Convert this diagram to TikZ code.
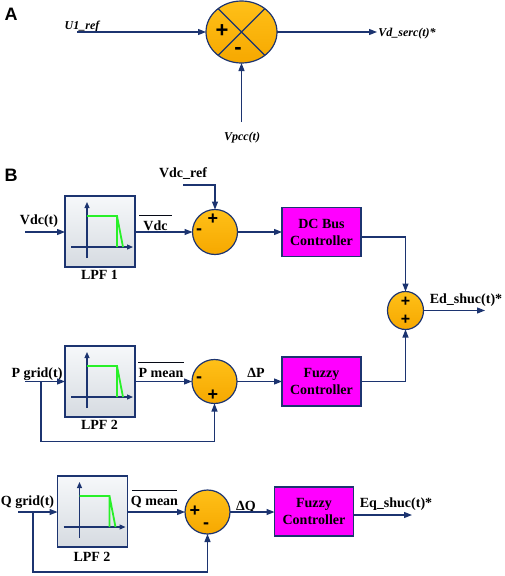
\documentclass[tikz,border=0pt]{standalone}
\usepackage{fontspec}
\setmainfont{Liberation Serif}
\newfontfamily\sansfam{Liberation Sans}
\usetikzlibrary{arrows.meta,shapes.geometric,calc}
\definecolor{navy}{RGB}{28,52,112}
\definecolor{sumtop}{RGB}{255,192,24}
\definecolor{sumbot}{RGB}{246,168,0}
\definecolor{magbox}{RGB}{255,0,255}
\definecolor{lpfgreen}{RGB}{40,240,40}
\definecolor{lpftop}{RGB}{246,248,250}
\definecolor{lpfbot}{RGB}{214,219,225}
\newcommand\lpfgraph[1]{%
  \begin{scope}[shift={(#1.north west)}]
    \draw[axisarr] (22,62) -- (22,6);
    \draw[axisarr] (6,51) -- (68,51);
    \draw[lpfgreen,line width=1.8pt] (22,20) -- (52,20) -- (52,51) (52,20) -- (58,51);
  \end{scope}}
\begin{document}
\begin{tikzpicture}[x=1pt,y=-1pt,
  wire/.style={draw=navy,line width=1.3pt},
  arr/.style={wire,-{Triangle[length=8pt,width=6pt]}},
  axisarr/.style={draw=navy,line width=1.2pt,-{Triangle[length=6pt,width=5pt]}},
  summer/.style={ellipse,draw=navy,line width=1.2pt,top color=sumtop,bottom color=sumbot,inner sep=0pt,outer sep=0pt},
  ctrl/.style={rectangle,draw=navy,line width=1.2pt,fill=magbox,minimum width=79pt,minimum height=49pt,align=center,inner sep=0pt,outer sep=0pt,font=\fontsize{14}{17}\selectfont\bfseries},
  lpf/.style={rectangle,draw=navy,line width=1.1pt,top color=lpftop,bottom color=lpfbot,minimum width=70pt,minimum height=71pt,inner sep=0pt,outer sep=0pt},
  lbl/.style={font=\fontsize{14}{17}\selectfont\bfseries,inner sep=0pt,anchor=base},
  albl/.style={font=\fontsize{12}{14}\selectfont\bfseries\itshape,inner sep=0pt,anchor=base},
  bigsign/.style={font=\sansfam\bfseries\fontsize{22}{22}\selectfont,inner sep=0pt},
  sign/.style={font=\sansfam\bfseries\fontsize{18}{18}\selectfont,inner sep=0pt},
  smallsign/.style={font=\sansfam\bfseries\fontsize{16}{16}\selectfont,inner sep=0pt},
  panel/.style={font=\sansfam\bfseries\fontsize{18}{18}\selectfont,inner sep=0pt,anchor=base},
  ovl/.style={draw=black!80!navy,line width=1pt}
]
\useasboundingbox (0,0) rectangle (505,576);

% ---------------- Part A ----------------
\node[panel] (labA) at (11,20) {A};
\node[summer,minimum width=71pt,minimum height=62pt] (sumA) at (241.5,32) {};
\draw[navy,line width=1.2pt] (sumA.45) -- (sumA.225) (sumA.135) -- (sumA.315);
\node[bigsign] (sAp) at (222,31) {+};
\node[bigsign] (sAm) at (238,51) {-};
\node[albl] (u1) at (82,29) {U1\_ref};
\node[albl] (vdserc) at (407,36) {Vd\_serc(t)*};
\node[albl] (vpcc) at (242,140) {Vpcc(t)};
\coordinate (u1in) at (77,32);
\coordinate (vdout) at (377,32);
\coordinate (vpccin) at (241.5,122);
\draw[arr] (u1in) -- (sumA.west);
\draw[arr] (sumA.east) -- (vdout);
\draw[arr] (vpccin) -- (sumA.south);

% ---------------- Part B ----------------
\node[panel] (labB) at (11,181) {B};

% row 1 : Vdc
\node[lpf] (lpf1) at (100,231.5) {};
\lpfgraph{lpf1}
\node[lbl] (lpf1l) at (99.5,279) {LPF 1};
\node[summer,minimum width=45pt,minimum height=45pt] (sum1) at (215,232) {};
\node[sign] (s1p) at (213,219) {+};
\node[sign] (s1m) at (199,232) {-};
\node[ctrl] (dcb) at (321.5,232) {DC Bus\\Controller};
\node[lbl] (vdcref) at (183,177) {Vdc\_ref};
\node[lbl] (vdct) at (39,224) {Vdc(t)};
\node[lbl] (vdcbar) at (155.5,230) {Vdc};
\draw[ovl] ([xshift=-4pt,yshift=5pt]vdcbar.north west) -- ([xshift=4pt,yshift=5pt]vdcbar.north east);
\coordinate (vdcrefin) at (183,185);
\coordinate (vdcin) at (25,232);
\draw[arr] (vdcrefin) -| (sum1.north);
\draw[arr] (vdcin) -- (lpf1.west |- vdcin);
\draw[arr] (lpf1.east |- vdcin) -- (sum1.west);
\draw[arr] (sum1.east) -- (dcb.west);

% summer Ed
\node[summer,minimum width=36pt,minimum height=38pt] (sum3) at (405.5,310.5) {};
\node[smallsign] (s3a) at (405.5,302) {+};
\node[smallsign] (s3b) at (405.5,320) {+};
\node[lbl] (edl) at (466,303) {Ed\_shuc(t)*};
\coordinate (edout) at (485,310.5);
\draw[arr] ([yshift=-5pt]dcb.east) -| (sum3.north);
\draw[arr] (sum3.east) -- (edout);

% row 2 : P
\node[lpf] (lpf2) at (100,381.5) {};
\lpfgraph{lpf2}
\node[lbl] (lpf2l) at (99.5,429) {LPF 2};
\node[summer,minimum width=45pt,minimum height=44pt] (sum2) at (214.5,381.5) {};
\node[sign] (s2m) at (199,380) {-};
\node[sign] (s2p) at (213,395) {+};
\node[ctrl] (fzp) at (321.5,381.5) {Fuzzy\\Controller};
\node[lbl] (pgrid) at (37,377) {P grid(t)};
\node[lbl] (pmean) at (161,377) {P mean};
\draw[ovl] ([yshift=5pt]pmean.north west) -- ([yshift=5pt]pmean.north east);
\node[lbl] (dp) at (256,377) {ΔP};
\coordinate (pin) at (25,381.5);
\coordinate (pbr) at (41,381.5);
\draw[arr] (pin) -- (lpf2.west);
\draw[arr] (pbr) -- ++(0,60) -| (sum2.south);
\draw[arr] (lpf2.east) -- (sum2.west);
\draw[arr] (sum2.east) -- (fzp.west);
\draw[arr] (fzp.east) -| (sum3.south);

% row 3 : Q
\node[lpf] (lpf3) at (92.5,511.5) {};
\lpfgraph{lpf3}
\node[lbl] (lpf3l) at (92,561) {LPF 2};
\node[summer,minimum width=45pt,minimum height=44pt] (sumq) at (207.5,512) {};
\node[sign] (sqp) at (195,511) {+};
\node[sign] (sqm) at (206,526) {-};
\node[ctrl] (fzq) at (314,511.5) {Fuzzy\\Controller};
\node[lbl] (qgrid) at (27.5,505) {Q grid(t)};
\node[lbl] (qmean) at (154.5,505) {Q mean};
\draw[ovl] ([xshift=1pt,yshift=5pt]qmean.north west) -- ([xshift=-1pt,yshift=5pt]qmean.north east);
\node[lbl] (dq) at (246,510) {ΔQ};
\node[lbl] (eql) at (396,507) {Eq\_shuc(t)*};
\coordinate (qin) at (18,512);
\coordinate (qbr) at (33,512);
\coordinate (eqout) at (412,515);
\draw[arr] (qin) -- (lpf3.west |- qin);
\draw[arr] (qbr) -- ++(0,60) -| (sumq.south);
\draw[arr] (lpf3.east |- qin) -- (sumq.west);
\draw[arr] (sumq.east) -- (fzq.west |- sumq.east);
\draw[arr] (fzq.east |- eqout) -- (eqout);
\end{tikzpicture}
\end{document}
